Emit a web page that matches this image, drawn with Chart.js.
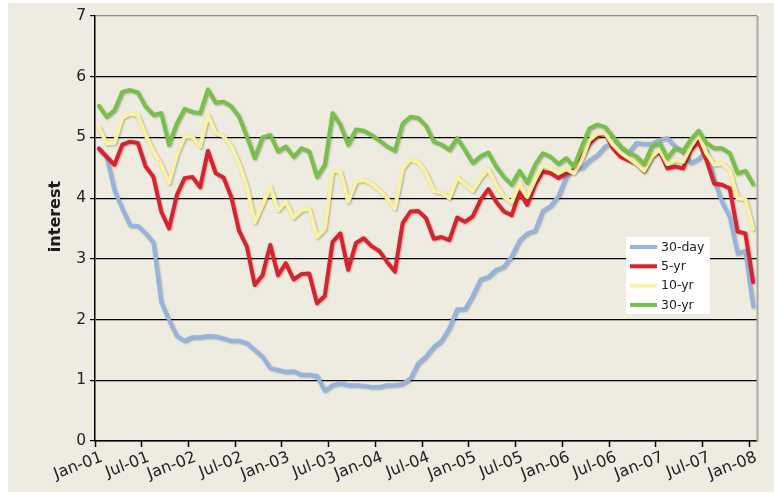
<!DOCTYPE html>
<html>
<head>
<meta charset="utf-8">
<script src="https://cdn.jsdelivr.net/npm/chart.js@4.4.1/dist/chart.umd.min.js"></script>
<style>
  html, body { margin: 0; padding: 0; background: #ffffff; }
  #wrap { width: 774px; height: 493px; }
  canvas { display: block; }
</style>
</head>
<body>
<div id="wrap"><canvas id="c" width="774" height="493"></canvas></div>
<script>
// ---- Data (monthly, Jan-01 .. Jan-08) ----
const months = [
  'Jan-01','Feb-01','Mar-01','Apr-01','May-01','Jun-01','Jul-01','Aug-01','Sep-01','Oct-01','Nov-01','Dec-01',
  'Jan-02','Feb-02','Mar-02','Apr-02','May-02','Jun-02','Jul-02','Aug-02','Sep-02','Oct-02','Nov-02','Dec-02',
  'Jan-03','Feb-03','Mar-03','Apr-03','May-03','Jun-03','Jul-03','Aug-03','Sep-03','Oct-03','Nov-03','Dec-03',
  'Jan-04','Feb-04','Mar-04','Apr-04','May-04','Jun-04','Jul-04','Aug-04','Sep-04','Oct-04','Nov-04','Dec-04',
  'Jan-05','Feb-05','Mar-05','Apr-05','May-05','Jun-05','Jul-05','Aug-05','Sep-05','Oct-05','Nov-05','Dec-05',
  'Jan-06','Feb-06','Mar-06','Apr-06','May-06','Jun-06','Jul-06','Aug-06','Sep-06','Oct-06','Nov-06','Dec-06',
  'Jan-07','Feb-07','Mar-07','Apr-07','May-07','Jun-07','Jul-07','Aug-07','Sep-07','Oct-07','Nov-07','Dec-07',
  'Jan-08'
];
const tickLabels = ['Jan-01','Jul-01','Jan-02','Jul-02','Jan-03','Jul-03','Jan-04','Jul-04',
                    'Jan-05','Jul-05','Jan-06','Jul-06','Jan-07','Jul-07','Jan-08'];
const yTicks = [0, 1, 2, 3, 4, 5, 6, 7];

const day30 = [
  4.80,4.68,4.13,3.83,3.55,3.54,3.42,3.27,2.29,1.99,1.73,1.65,
  1.71,1.71,1.73,1.72,1.69,1.65,1.65,1.61,1.50,1.39,1.20,1.17,
  1.14,1.15,1.09,1.09,1.07,0.83,0.92,0.95,0.92,0.92,0.91,0.89,
  0.89,0.92,0.92,0.94,1.03,1.28,1.39,1.55,1.65,1.86,2.17,2.17,
  2.39,2.66,2.70,2.82,2.87,3.04,3.30,3.42,3.46,3.79,3.87,4.03,
  4.35,4.49,4.49,4.62,4.71,4.85,4.91,4.82,4.74,4.91,4.89,4.89,
  4.96,4.99,4.85,4.77,4.58,4.64,4.79,4.30,3.94,3.69,3.09,3.13,
  2.22
];
const yr5 = [
  4.82,4.68,4.55,4.88,4.93,4.91,4.52,4.35,3.78,3.50,4.05,4.33,
  4.35,4.18,4.78,4.41,4.34,4.02,3.46,3.20,2.57,2.73,3.23,2.73,
  2.93,2.66,2.75,2.76,2.27,2.39,3.28,3.42,2.82,3.26,3.34,3.21,
  3.13,2.95,2.79,3.59,3.78,3.79,3.67,3.33,3.36,3.31,3.68,3.61,
  3.70,3.97,4.15,3.94,3.78,3.72,4.09,3.89,4.22,4.44,4.41,4.33,
  4.40,4.46,4.68,4.90,5.02,5.07,4.82,4.68,4.62,4.57,4.44,4.68,
  4.77,4.49,4.52,4.49,4.79,4.93,4.63,4.24,4.22,4.16,3.45,3.42,
  2.62
];
const yr10 = [
  5.16,4.90,4.91,5.32,5.39,5.37,5.04,4.77,4.55,4.25,4.71,5.01,
  5.01,4.85,5.37,5.07,5.02,4.85,4.57,4.19,3.60,3.89,4.19,3.80,
  3.94,3.68,3.80,3.83,3.36,3.49,4.45,4.44,3.94,4.27,4.30,4.24,
  4.13,4.00,3.83,4.49,4.64,4.59,4.41,4.12,4.09,4.00,4.34,4.23,
  4.12,4.33,4.48,4.22,4.02,3.93,4.25,4.02,4.30,4.55,4.49,4.41,
  4.48,4.41,4.63,4.96,5.06,5.07,4.88,4.75,4.66,4.57,4.45,4.68,
  4.80,4.56,4.63,4.60,4.85,5.04,4.74,4.55,4.57,4.46,4.00,3.98,
  3.49
];
const yr30 = [
  5.52,5.34,5.45,5.75,5.78,5.74,5.51,5.37,5.40,4.88,5.23,5.47,
  5.42,5.40,5.79,5.57,5.59,5.51,5.34,5.01,4.66,5.00,5.04,4.77,
  4.85,4.68,4.82,4.77,4.35,4.55,5.40,5.21,4.88,5.13,5.11,5.04,
  4.95,4.85,4.78,5.23,5.34,5.32,5.19,4.93,4.88,4.79,4.99,4.79,
  4.58,4.69,4.75,4.52,4.35,4.22,4.45,4.25,4.55,4.74,4.68,4.56,
  4.66,4.52,4.85,5.15,5.21,5.17,5.01,4.85,4.75,4.69,4.56,4.85,
  4.91,4.66,4.82,4.77,4.97,5.11,4.91,4.82,4.82,4.74,4.41,4.45,
  4.23
];

const seriesNames = ['30-day', '5-yr', '10-yr', '30-yr'];
const seriesValues = [day30, yr5, yr10, yr30];
const seriesColors = ['#95B3DF', '#D8232E', '#F8F2A2', '#77C04A'];
const axisTitle = 'interest';

// Points sit in the middle of each month slot on a linear month axis
function toPoints(vals) {
  return vals.map((v, i) => ({ x: i + 0.5, y: v }));
}

const FONT = '"DejaVu Sans", Verdana, sans-serif';

const bgPlugin = {
  id: 'bg',
  beforeDraw(chart) {
    const ctx = chart.ctx;
    ctx.save();
    ctx.fillStyle = '#ffffff';
    ctx.fillRect(0, 0, chart.width, chart.height);
    ctx.fillStyle = '#EEEBE0';
    ctx.fillRect(8, 3, chart.width - 8, chart.height - 4);
    ctx.restore();
  }
};

const shadowPlugin = {
  id: 'lineShadow',
  beforeDatasetsDraw(chart) {
    const ctx = chart.ctx;
    ctx.save();
    ctx.shadowColor = 'rgba(0,0,0,0.28)';
    ctx.shadowBlur = 2;
    ctx.shadowOffsetX = 1;
    ctx.shadowOffsetY = 1;
  },
  afterDatasetsDraw(chart) {
    chart.ctx.restore();
  }
};

const framePlugin = {
  id: 'frame',
  afterDraw(chart) {
    const ctx = chart.ctx;
    const a = chart.chartArea;
    ctx.save();
    ctx.strokeStyle = '#A8A8A8';
    ctx.lineWidth = 2;
    ctx.beginPath();
    ctx.moveTo(a.right + 0.5, a.top);
    ctx.lineTo(a.right + 0.5, a.bottom + 1);
    ctx.stroke();
    ctx.fillStyle = '#1a1a1a';
    ctx.font = 'bold 16px ' + FONT;
    ctx.textAlign = 'center';
    ctx.textBaseline = 'middle';
    ctx.translate(56, 216.5);
    ctx.rotate(-Math.PI / 2);
    ctx.fillText(axisTitle, 0, 0);
    ctx.restore();
  }
};

const legendPlugin = {
  id: 'boxLegend',
  afterDraw(chart) {
    const ctx = chart.ctx;
    ctx.save();
    ctx.fillStyle = '#ffffff';
    ctx.fillRect(626, 237, 84, 77);
    ctx.font = '12.5px ' + FONT;
    ctx.textBaseline = 'middle';
    ctx.textAlign = 'left';
    seriesNames.forEach((name, k) => {
      const ds = chart.data.datasets.find(d => d.label === name);
      const y = 247 + k * 19.3;
      ctx.strokeStyle = ds.borderColor;
      ctx.lineWidth = 4;
      ctx.lineCap = 'butt';
      ctx.beginPath();
      ctx.moveTo(630, y);
      ctx.lineTo(657, y);
      ctx.stroke();
      ctx.fillStyle = '#222222';
      ctx.fillText(name, 661, y + 0.5);
    });
    ctx.restore();
  }
};

const datasets = seriesNames.map((name, k) => ({
  label: name,
  data: toPoints(seriesValues[k]),
  borderColor: seriesColors[k],
  backgroundColor: seriesColors[k],
  borderWidth: 4,
  pointRadius: 0,
  tension: 0,
  fill: false,
  order: 4 - k,
  borderJoinStyle: 'round',
  borderCapStyle: 'round'
}));

new Chart(document.getElementById('c'), {
  type: 'line',
  data: { datasets },
  options: {
    responsive: false,
    devicePixelRatio: 1,
    animation: false,
    layout: { padding: { left: 8, top: 16, right: 17, bottom: 0 } },
    plugins: {
      legend: { display: false },
      tooltip: { enabled: false }
    },
    scales: {
      x: {
        type: 'linear',
        min: 0,
        max: months.length,
        afterFit(scale) { scale.height = 52; },
        afterBuildTicks(scale) {
          scale.ticks = tickLabels.map((t, i) => ({ value: i * 6 }));
        },
        ticks: {
          autoSkip: false,
          minRotation: 21,
          maxRotation: 21,
          labelOffset: 7,
          padding: 1,
          color: '#222222',
          font: { family: FONT, size: 16 },
          callback(value) { return tickLabels[Math.round(value / 6)]; }
        },
        grid: {
          drawOnChartArea: false,
          drawTicks: true,
          tickLength: 6,
          tickColor: '#000000',
          tickWidth: 1.5
        },
        border: { color: '#000000', width: 1.5 }
      },
      y: {
        min: yTicks[0],
        max: yTicks[yTicks.length - 1],
        afterFit(scale) { scale.width = 87; },
        afterBuildTicks(scale) {
          scale.ticks = yTicks.map(v => ({ value: v }));
        },
        ticks: {
          color: '#222222',
          padding: 4,
          font: { family: FONT, size: 15.5 }
        },
        grid: {
          color(ctx) { return ctx.tick && ctx.tick.value === 7 ? '#8C8C8C' : '#000000'; },
          lineWidth: 1.2,
          drawTicks: true,
          tickLength: 5,
          tickColor: '#000000'
        },
        border: { color: '#000000', width: 1.5 }
      }
    }
  },
  plugins: [bgPlugin, shadowPlugin, framePlugin, legendPlugin]
});
</script>
</body>
</html>
